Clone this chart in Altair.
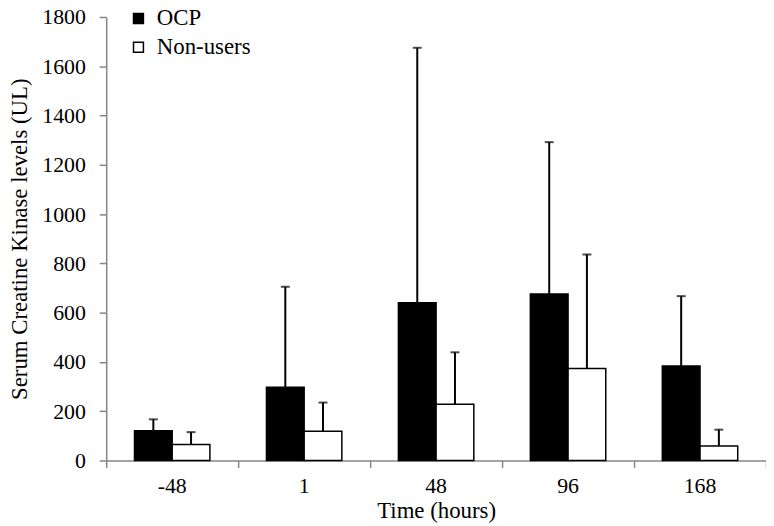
import altair as alt
import pandas as pd

times = ["-48", "1", "48", "96", "168"]
groups = ["OCP", "Non-users"]
ocp_mean = [121, 297, 640, 676, 383]
ocp_sd = [46, 408, 1035, 616, 284]
non_mean = [65, 119, 228, 373, 59]
non_sd = [50, 116, 211, 463, 66]
y_ticks = [0, 200, 400, 600, 800, 1000, 1200, 1400, 1600, 1800]

rows = []
for i, t in enumerate(times):
    rows.append({"time": t, "group": "OCP", "mean": ocp_mean[i], "upper": ocp_mean[i] + ocp_sd[i]})
    rows.append({"time": t, "group": "Non-users", "mean": non_mean[i], "upper": non_mean[i] + non_sd[i]})
df = pd.DataFrame(rows)

FONT = "Liberation Serif"
GRAY = "#868686"

x = alt.X(
    "time:N", sort=times, title="Time (hours)",
    scale=alt.Scale(paddingInner=0, paddingOuter=0),
    axis=alt.Axis(
        labelAngle=0, bandPosition=1, tickExtra=True, tickSize=7, tickColor=GRAY, tickWidth=1.5,
        domainColor=GRAY, domainWidth=1.5, labelFont=FONT, labelFontSize=22, labelColor="black",
        labelPadding=8, titleFont=FONT, titleFontSize=23, titleFontWeight="normal",
        titleColor="black", titlePadding=3,
    ),
)
xo = alt.XOffset("group:N", sort=groups, scale=alt.Scale(paddingInner=0, paddingOuter=0.75))
y = alt.Y(
    "mean:Q", title="Serum Creatine Kinase levels (UL)",
    scale=alt.Scale(domain=[0, 1800], nice=False),
    axis=alt.Axis(
        values=y_ticks, format="d", grid=False, tickSize=7, tickColor=GRAY, tickWidth=1.5,
        domainColor=GRAY, domainWidth=1.5, labelFont=FONT, labelFontSize=22, labelColor="black",
        labelPadding=14, titleFont=FONT, titleFontSize=23, titleFontWeight="normal",
        titleColor="black", titlePadding=10,
    ),
)

base = alt.Chart(df)

bars = base.mark_bar(stroke="black", strokeWidth=1.5).encode(
    x=x, xOffset=xo, y=y,
    fill=alt.Fill(
        "group:N", sort=groups,
        scale=alt.Scale(domain=groups, range=["black", "white"]),
        legend=alt.Legend(
            title=None, orient="none", legendX=21, legendY=-10, symbolType="square",
            symbolSize=100, symbolStrokeColor="black", symbolStrokeWidth=1.5,
            labelFont=FONT, labelFontSize=23, labelColor="black", labelOffset=7,
            rowPadding=5, padding=0,
        ),
    ),
)

err = base.mark_rule(color="black", strokeWidth=2).encode(
    x=x, xOffset=xo, y="mean:Q", y2="upper:Q",
)
cap = base.mark_tick(color="black", thickness=2, size=9).encode(
    x=x, xOffset=xo, y="upper:Q",
)

chart = alt.layer(bars, err, cap).properties(
    width=665, height=447,
    autosize=alt.AutoSizeParams(type="none"),
    padding={"left": 99, "top": 7, "right": 0, "bottom": 62},
).configure_view(stroke=None)

chart.save("out.html", embed_options={"renderer": "svg", "actions": False})
